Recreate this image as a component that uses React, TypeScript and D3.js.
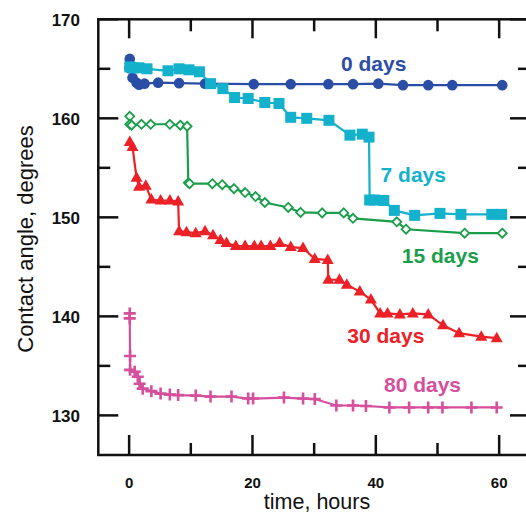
import React from "react";
import * as d3 from "d3";

const t0 = [0.1, 0.1, 0.55, 1.2, 1.6, 2.5, 4.7, 8.1, 12.3, 20.2, 26.2, 32.3, 36.3, 40.4, 44.4, 48.5, 52.4, 60.5];
const v0 = [166.0, 165.05, 164.1, 163.6, 163.4, 163.5, 163.6, 163.55, 163.5, 163.45, 163.45, 163.45, 163.45, 163.5, 163.35, 163.35, 163.35, 163.35];

const t7 = [0.1, 0.65, 1.6, 2.9, 6.3, 8.1, 9.7, 11.4, 13.2, 15.2, 17.1, 19.3, 22.0, 24.3, 26.2, 28.8, 32.4, 35.8, 37.8, 38.9, 39.0, 39.8, 41.3, 43.0, 46.3, 50.4, 53.8, 58.8, 60.4];
const v7 = [165.2, 165.1, 165.1, 165.0, 164.8, 165.0, 164.9, 164.7, 163.5, 163.0, 162.1, 162.0, 161.6, 161.5, 160.1, 160.0, 159.8, 158.3, 158.4, 158.1, 151.75, 151.75, 151.7, 150.7, 150.2, 150.4, 150.3, 150.3, 150.3];

const t15 = [0.1, 0.1, 0.4, 2.0, 3.5, 6.6, 8.3, 9.4, 9.6, 9.8, 13.5, 15.1, 17.0, 18.8, 20.5, 22.0, 25.8, 27.8, 31.3, 34.8, 36.3, 43.4, 44.9, 54.4, 60.5];
const v15 = [160.2, 159.4, 159.3, 159.4, 159.4, 159.4, 159.3, 159.2, 153.5, 153.4, 153.4, 153.3, 152.9, 152.5, 152.1, 151.5, 151.0, 150.5, 150.45, 150.45, 149.9, 149.55, 148.8, 148.4, 148.4];

const t30 = [0.1, 0.55, 1.2, 1.6, 2.7, 3.6, 5.1, 6.6, 7.95, 8.1, 9.3, 10.8, 12.3, 13.6, 14.8, 15.8, 17.3, 18.8, 20.3, 21.4, 22.9, 24.4, 26.2, 28.2, 30.1, 32.2, 32.3, 34.1, 35.3, 37.4, 39.2, 40.7, 41.9, 43.9, 46.0, 48.5, 50.9, 53.5, 57.1, 59.6];
const v30 = [157.6, 157.1, 154.0, 153.1, 153.2, 151.8, 151.7, 151.7, 151.6, 148.6, 148.5, 148.4, 148.6, 148.2, 147.7, 147.4, 147.1, 147.1, 147.1, 147.1, 147.1, 147.4, 147.0, 146.9, 145.8, 145.7, 143.7, 143.7, 143.2, 142.5, 141.7, 140.3, 140.3, 140.2, 140.3, 140.2, 139.1, 138.3, 137.95, 137.8];

const t80 = [0.1, 0.1, 0.15, 0.15, 0.9, 1.4, 1.7, 2.2, 3.6, 5.1, 6.6, 7.95, 10.8, 13.2, 16.6, 19.3, 20.1, 25.1, 28.2, 30.1, 33.6, 36.3, 38.4, 42.2, 45.4, 48.5, 50.8, 55.5, 59.6];
const v80 = [140.3, 139.8, 136.0, 134.6, 134.4, 133.9, 133.2, 132.7, 132.45, 132.2, 132.1, 132.05, 132.0, 131.9, 131.9, 131.7, 131.7, 131.8, 131.7, 131.65, 131.0, 131.0, 130.95, 130.8, 130.8, 130.8, 130.8, 130.8, 130.8];

const seriesNames = ["0 days", "7 days", "15 days", "30 days", "80 days"];
const xTicksMajor = [0, 20, 40, 60];
const xTicksMinor = [10, 30, 50];
const yTicksMajor = [130, 140, 150, 160, 170];
const yTicksMinor = [135, 145, 155, 165];

const W = 526;
const H = 515;
const x = d3.scaleLinear().domain([-5, 65]).range([98.3, 530]);
const y = d3.scaleLinear().domain([126, 170]).range([455, 19.3]);

const FONT = "'Liberation Sans', Arial, sans-serif";

type Series = { name: string; t: number[]; v: number[]; color: string; marker: string; lx: number; ly: number };

const series: Series[] = [
  { name: seriesNames[0], t: t0, v: v0, color: "#2a4ea6", marker: "circle", lx: 373.7, ly: 71 },
  { name: seriesNames[1], t: t7, v: v7, color: "#14b1cc", marker: "square", lx: 413.3, ly: 182 },
  { name: seriesNames[2], t: t15, v: v15, color: "#1a9e4b", marker: "diamond", lx: 440.3, ly: 262.5 },
  { name: seriesNames[3], t: t30, v: v30, color: "#ec2127", marker: "triangle", lx: 385.8, ly: 342.5 },
  { name: seriesNames[4], t: t80, v: v80, color: "#d64f9d", marker: "cross", lx: 422.5, ly: 391.7 },
];

function Marker({ kind, cx, cy, color }: { kind: string; cx: number; cy: number; color: string }) {
  if (kind === "circle") return <circle cx={cx} cy={cy} r={5.3} fill={color} />;
  if (kind === "square") return <rect x={cx - 5.5} y={cy - 5.5} width={11} height={11} fill={color} />;
  if (kind === "diamond")
    return (
      <path
        d={`M${cx},${cy - 4.5}L${cx + 4.5},${cy}L${cx},${cy + 4.5}L${cx - 4.5},${cy}Z`}
        fill="white"
        stroke={color}
        strokeWidth={1.8}
      />
    );
  if (kind === "triangle")
    return <path d={`M${cx},${cy - 6.5}L${cx + 6},${cy + 4}L${cx - 6},${cy + 4}Z`} fill={color} />;
  return (
    <path
      d={`M${cx - 6},${cy}L${cx + 6},${cy}M${cx},${cy - 6}L${cx},${cy + 6}`}
      stroke={color}
      strokeWidth={2.6}
    />
  );
}

export default function App() {
  const line = d3
    .line<[number, number]>()
    .x((d) => x(d[0]))
    .y((d) => y(d[1]));
  const ax = "#111";
  const x0 = x(-5);
  const x1 = x(65);
  const y0 = y(126);
  const y1 = y(170);
  return (
    <svg
      width={W}
      height={H}
      style={{ position: "absolute", left: 0, top: 0, background: "white" }}
      fontFamily={FONT}
    >
      {series.map((s) => {
        const pts: [number, number][] = s.t.map((t, i) => [t, s.v[i]]);
        return (
          <g key={s.name}>
            <path d={line(pts) || ""} fill="none" stroke={s.color} strokeWidth={2.2} />
            {pts.map((p, i) => (
              <Marker key={i} kind={s.marker} cx={x(p[0])} cy={y(p[1])} color={s.color} />
            ))}
            <text x={s.lx} y={s.ly} textAnchor="middle" fontSize={21} fontWeight="bold" fill={s.color}>
              {s.name}
            </text>
          </g>
        );
      })}
      {/* frame */}
      <rect x={x0} y={y1} width={x1 - x0} height={y0 - y1} fill="none" stroke={ax} strokeWidth={2.5} />
      {xTicksMajor.map((t) => (
        <g key={"xM" + t}>
          <line x1={x(t)} x2={x(t)} y1={y0} y2={y0 - 20} stroke={ax} strokeWidth={2.5} />
          <line x1={x(t)} x2={x(t)} y1={y1} y2={y1 + 19} stroke={ax} strokeWidth={2.5} />
          <text x={x(t)} y={488} textAnchor="middle" fontSize={15} fontWeight="bold" fill={ax}>
            {t}
          </text>
        </g>
      ))}
      {xTicksMinor.map((t) => (
        <g key={"xm" + t}>
          <line x1={x(t)} x2={x(t)} y1={y0} y2={y0 - 12} stroke={ax} strokeWidth={2.5} />
          <line x1={x(t)} x2={x(t)} y1={y1} y2={y1 + 12} stroke={ax} strokeWidth={2.5} />
        </g>
      ))}
      {yTicksMajor.map((v) => (
        <g key={"yM" + v}>
          <line x1={x0} x2={x0 + 20} y1={y(v)} y2={y(v)} stroke={ax} strokeWidth={2.5} />
          <line x1={x1} x2={x1 - 20} y1={y(v)} y2={y(v)} stroke={ax} strokeWidth={2.5} />
          <text x={80} y={y(v) + 6.3} textAnchor="end" fontSize={17} fontWeight="bold" fill={ax}>
            {v}
          </text>
        </g>
      ))}
      {yTicksMinor.map((v) => (
        <g key={"ym" + v}>
          <line x1={x0} x2={x0 + 12} y1={y(v)} y2={y(v)} stroke={ax} strokeWidth={2.5} />
          <line x1={x1} x2={x1 - 12} y1={y(v)} y2={y(v)} stroke={ax} strokeWidth={2.5} />
        </g>
      ))}
      <text x={317} y={509} textAnchor="middle" fontSize={21.5} fill={ax}>
        time, hours
      </text>
      <text
        transform={`translate(33,239) rotate(-90)`}
        textAnchor="middle"
        fontSize={22}
        fill={ax}
      >
        Contact angle, degrees
      </text>
    </svg>
  );
}
